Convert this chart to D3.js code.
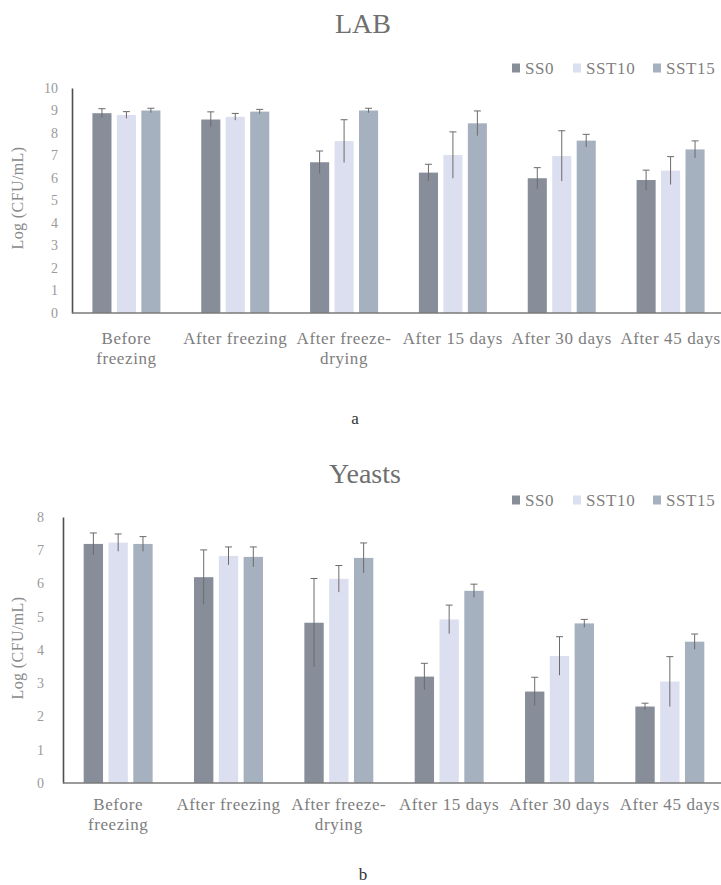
<!DOCTYPE html>
<html>
<head>
<meta charset="utf-8">
<script src="https://cdn.jsdelivr.net/npm/d3@7"></script>
<style>
  html, body { margin: 0; padding: 0; background: #fff; }
  svg { display: block; }
  text { font-family: "Liberation Serif", "Times New Roman", serif; }
</style>
</head>
<body>
<script>
// Sampling stages along the x axis
const stages = [
  ["Before", "freezing"],
  ["After freezing"],
  ["After freeze-", "drying"],
  ["After 15 days"],
  ["After 30 days"],
  ["After 45 days"]
];
const seriesNames = ["SS0", "SST10", "SST15"];
const seriesColors = ["#878e9a", "#dcdff0", "#a6b1c0"];

// LAB counts, Log (CFU/mL)
const labSS0   = [8.88, 8.60, 6.70, 6.24, 5.99, 5.91];
const labSST10 = [8.80, 8.72, 7.64, 7.02, 6.98, 6.33];
const labSST15 = [9.00, 8.95, 9.00, 8.43, 7.66, 7.27];
const labErrSS0   = [0.20, 0.34, 0.50, 0.37, 0.47, 0.44];
const labErrSST10 = [0.15, 0.15, 0.95, 1.03, 1.12, 0.62];
const labErrSST15 = [0.10, 0.10, 0.10, 0.55, 0.28, 0.38];
const labTicks = [0, 1, 2, 3, 4, 5, 6, 7, 8, 9, 10];

// Yeast counts, Log (CFU/mL)
const yeastSS0   = [7.19, 6.19, 4.82, 3.20, 2.75, 2.30];
const yeastSST10 = [7.23, 6.83, 6.14, 4.92, 3.82, 3.05];
const yeastSST15 = [7.19, 6.80, 6.77, 5.78, 4.80, 4.25];
const yeastErrSS0   = [0.33, 0.82, 1.33, 0.40, 0.43, 0.10];
const yeastErrSST10 = [0.26, 0.27, 0.40, 0.43, 0.58, 0.75];
const yeastErrSST15 = [0.22, 0.30, 0.45, 0.20, 0.12, 0.23];
const yeastTicks = [0, 1, 2, 3, 4, 5, 6, 7, 8];

const W = 721, H = 885;
const svg = d3.select("body").append("svg").attr("width", W).attr("height", H);

function drawChart(cfg) {
  const g = svg.append("g");
  const x0 = d3.scaleBand().domain(d3.range(stages.length))
    .range([cfg.left, cfg.right]).paddingInner(0.375).paddingOuter(0.1875);
  const x1 = d3.scaleBand().domain(seriesNames)
    .range([0, x0.bandwidth()]).paddingInner(0.22).paddingOuter(0);
  const y = d3.scaleLinear().domain([0, cfg.yMax]).range([cfg.bottom, cfg.top]);

  const rows = [];
  stages.forEach((s, i) => {
    seriesNames.forEach((name, k) => {
      rows.push({ i, name, k, v: cfg.values[k][i], e: cfg.errors[k][i] });
    });
  });

  // title
  g.append("text").attr("x", cfg.titleX).attr("y", cfg.titleY)
    .attr("text-anchor", "middle").attr("font-size", 28).attr("fill", "#6f6f6f")
    .text(cfg.title);

  // legend
  const legX = [512, 573, 653];
  seriesNames.forEach((name, k) => {
    g.append("rect").attr("x", legX[k]).attr("y", cfg.legendY - 4.5)
      .attr("width", 8).attr("height", 9).attr("fill", seriesColors[k]);
    g.append("text").attr("x", legX[k] + 13).attr("y", cfg.legendY + 6)
      .attr("font-size", 17).attr("letter-spacing", 0.6).attr("fill", "#808080")
      .text(name);
  });

  // bars
  g.selectAll("rect.bar").data(rows).join("rect").attr("class", "bar")
    .attr("x", d => x0(d.i) + x1(d.name))
    .attr("width", x1.bandwidth())
    .attr("y", d => y(d.v))
    .attr("height", d => y(0) - y(d.v))
    .attr("fill", d => seriesColors[d.k]);

  // error bars
  const eb = g.selectAll("g.err").data(rows).join("g").attr("class", "err")
    .attr("stroke", "#6e6a6a").attr("stroke-width", 1).attr("fill", "none");
  eb.append("line")
    .attr("x1", d => x0(d.i) + x1(d.name) + x1.bandwidth() / 2)
    .attr("x2", d => x0(d.i) + x1(d.name) + x1.bandwidth() / 2)
    .attr("y1", d => y(d.v - d.e)).attr("y2", d => y(d.v + d.e));
  eb.append("line")
    .attr("x1", d => x0(d.i) + x1(d.name) + x1.bandwidth() / 2 - 3.5)
    .attr("x2", d => x0(d.i) + x1(d.name) + x1.bandwidth() / 2 + 3.5)
    .attr("y1", d => y(d.v + d.e)).attr("y2", d => y(d.v + d.e));

  // y axis
  const yAxis = d3.axisLeft(y).tickValues(cfg.ticks).tickSize(0).tickPadding(cfg.tickPad);
  const ya = g.append("g").attr("transform", `translate(${cfg.left},0)`).call(yAxis);
  ya.select(".domain").attr("stroke", "#4f4f4f").attr("stroke-width", 1.6);
  ya.selectAll("text").attr("font-size", 14).attr("fill", "#9a9a9a")
    .attr("font-family", "Liberation Serif, serif");

  // baseline
  g.append("line").attr("x1", cfg.left).attr("x2", W)
    .attr("y1", y(0)).attr("y2", y(0)).attr("stroke", "#7a7a7a").attr("stroke-width", 1.4);

  // y axis title
  g.append("text")
    .attr("transform", `translate(${cfg.yTitleX},${cfg.yTitleY}) rotate(-90)`)
    .attr("text-anchor", "middle").attr("font-size", 16).attr("fill", "#8a8a8a")
    .attr("letter-spacing", 0.4)
    .text("Log (CFU/mL)");

  // category labels
  stages.forEach((lines, i) => {
    const cx = x0(i) + x0.bandwidth() / 2;
    lines.forEach((ln, j) => {
      g.append("text").attr("x", cx).attr("y", cfg.labelY + j * 19.5)
        .attr("text-anchor", "middle").attr("font-size", 17)
        .attr("letter-spacing", 0.6).attr("fill", "#7d7d7d").text(ln);
    });
  });

  // panel letter
  g.append("text").attr("x", cfg.letterX).attr("y", cfg.letterY)
    .attr("text-anchor", "middle").attr("font-size", 17).attr("fill", "#333")
    .text(cfg.letter);
}

drawChart({
  title: "LAB", titleX: 363, titleY: 33, legendY: 68,
  left: 72, right: 725, top: 88, bottom: 313, yMax: 10, ticks: labTicks, tickPad: 14,
  values: [labSS0, labSST10, labSST15], errors: [labErrSS0, labErrSST10, labErrSST15],
  yTitleX: 23, yTitleY: 198, labelY: 344, letter: "a", letterX: 355, letterY: 424
});

drawChart({
  title: "Yeasts", titleX: 365, titleY: 483, legendY: 500,
  left: 63, right: 725, top: 517, bottom: 783, yMax: 8, ticks: yeastTicks, tickPad: 19,
  values: [yeastSS0, yeastSST10, yeastSST15], errors: [yeastErrSS0, yeastErrSST10, yeastErrSST15],
  yTitleX: 23, yTitleY: 648, labelY: 810, letter: "b", letterX: 363, letterY: 880
});
</script>
</body>
</html>
